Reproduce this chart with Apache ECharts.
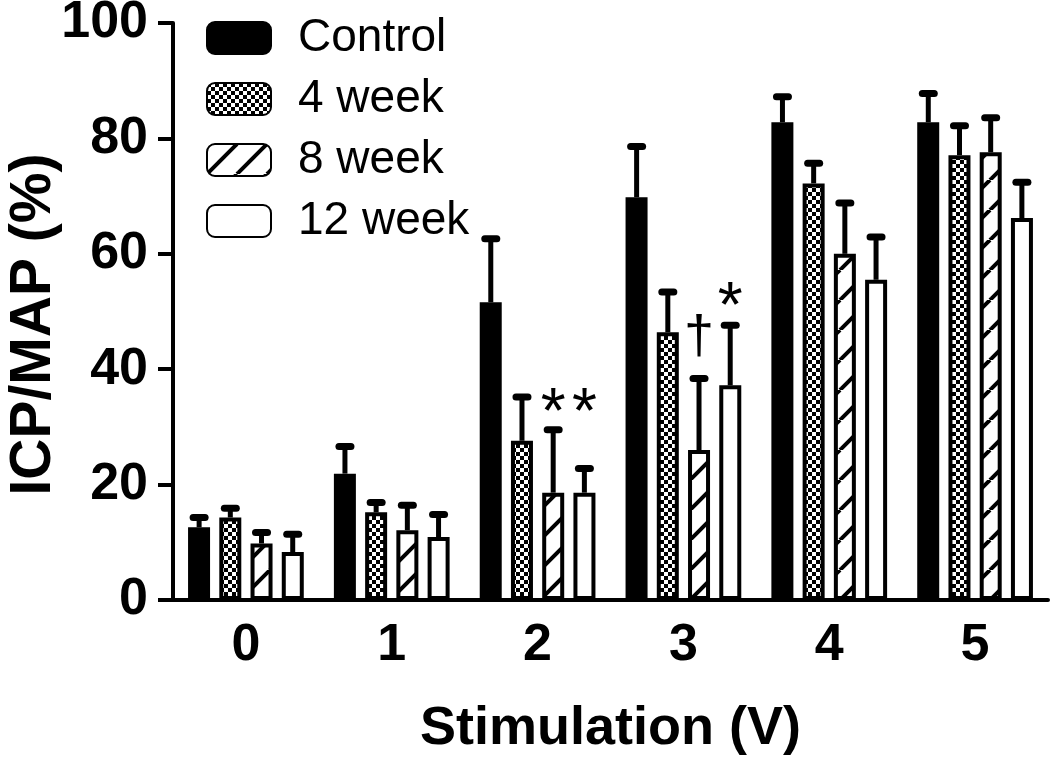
<!DOCTYPE html>
<html>
<head>
<meta charset="utf-8">
<script src="https://cdn.jsdelivr.net/npm/echarts@6/dist/echarts.min.js"></script>
<style>
    html, body { margin: 0; padding: 0; background: #fff; }
    #main { width: 1050px; height: 762px; }
</style>
</head>
<body>
<div id="main"></div>
<script>
// 数据
var categories = ['0', '1', '2', '3', '4', '5'];
var seriesNames = ['Control', '4 week', '8 week', '12 week'];

var control = [12.6, 21.9, 51.6, 69.8, 82.8, 82.8];
var controlErr = [14.3, 26.6, 62.6, 78.6, 87.2, 87.8];
var week4 = [14.3, 15.2, 27.6, 46.4, 72.2, 77.1];
var week4Err = [15.9, 16.9, 35.2, 53.4, 75.7, 82.2];
var week8 = [9.8, 12.1, 18.6, 26.0, 60.0, 77.6];
var week8Err = [11.7, 16.4, 29.5, 38.4, 68.8, 83.6];
var week12 = [8.3, 10.9, 18.6, 37.2, 55.5, 66.2];
var week12Err = [11.4, 14.8, 22.8, 47.6, 62.9, 72.4];

var yTicks = [0, 20, 40, 60, 80, 100];

// significance marks: [category index, series index, mark, level]
var marks = [
    [2, 2, '*', 34.7],
    [2, 3, '*', 34.7],
    [3, 2, '\u2020', 45.4],
    [3, 3, '*', 53.2]
];

var values = [control, week4, week8, week12];
var errTops = [controlErr, week4Err, week8Err, week12Err];

// 填充图案
function makeChecker() {
    var c = document.createElement('canvas');
    c.width = 8; c.height = 8;
    var ctx = c.getContext('2d');
    ctx.fillStyle = '#fff';
    ctx.fillRect(0, 0, 8, 8);
    ctx.fillStyle = '#000';
    ctx.fillRect(0, 0, 4, 4);
    ctx.fillRect(4, 4, 4, 4);
    return c;
}
function makeHatch() {
    var s = 30;
    var c = document.createElement('canvas');
    c.width = s; c.height = s;
    var ctx = c.getContext('2d');
    ctx.fillStyle = '#fff';
    ctx.fillRect(0, 0, s, s);
    ctx.strokeStyle = '#000';
    ctx.lineWidth = 4;
    [-s, 0, s].forEach(function (o) {
        ctx.beginPath();
        ctx.moveTo(o, s);
        ctx.lineTo(o + s, 0);
        ctx.stroke();
    });
    return c;
}

var fills = [
    '#000',
    { image: makeChecker(), repeat: 'repeat' },
    { image: makeHatch(), repeat: 'repeat' },
    '#fff'
];

var FONT = 'Liberation Sans, Arial, sans-serif';
var BAR_W = 22;
var STEP = 31.2; // 柱中心间距
function barOffset(i) { return (i - 1.5) * STEP; }

var chart = echarts.init(document.getElementById('main'));

var series = [];
seriesNames.forEach(function (name, i) {
    series.push({
        name: name,
        type: 'bar',
        barWidth: BAR_W,
        barGap: '42%',
        data: values[i],
        itemStyle: {
            color: fills[i],
            borderColor: '#000',
            borderWidth: 4
        },
        z: 2
    });
});

seriesNames.forEach(function (name, i) {
    series.push({
        type: 'custom',
        name: name + ' err',
        z: 3,
        renderItem: function (params, api) {
            var p0 = api.coord([api.value(0), api.value(1)]);
            var p1 = api.coord([api.value(0), api.value(2)]);
            var x = p0[0] + barOffset(i);
            return {
                type: 'group',
                children: [{
                    type: 'line',
                    shape: { x1: x, y1: p0[1], x2: x, y2: p1[1] },
                    style: { stroke: '#000', lineWidth: 5 }
                }, {
                    type: 'line',
                    shape: { x1: x - 6, y1: p1[1], x2: x + 6, y2: p1[1] },
                    style: { stroke: '#000', lineWidth: 7, lineCap: 'round' }
                }]
            };
        },
        data: categories.map(function (c, k) { return [k, values[i][k], errTops[i][k]]; })
    });
});

series.push({
    type: 'custom',
    name: 'marks',
    z: 4,
    renderItem: function (params, api) {
        var p = api.coord([api.value(0), api.value(3)]);
        var si = api.value(1);
        var txt = marks[params.dataIndex][2];
        var star = txt === '*';
        return {
            type: 'text',
            x: p[0] + barOffset(si),
            y: p[1] + (star ? 16 : 0),
            style: {
                text: txt,
                font: (star ? '64px ' : '54px ') + FONT,
                fill: '#000',
                align: 'center',
                verticalAlign: 'middle'
            }
        };
    },
    data: marks.map(function (m) { return [m[0], m[1], 0, m[3]]; })
});

chart.setOption({
    backgroundColor: '#fff',
    animation: false,
    grid: { left: 173, right: 2, top: 23, bottom: 162, outerBoundsMode: 'none' },
    legend: {
        data: seriesNames,
        orient: 'vertical',
        left: 201,
        top: 10,
        icon: 'roundRect',
        itemWidth: 64,
        itemHeight: 32,
        itemGap: 15,
        textStyle: {
            fontFamily: FONT,
            fontSize: 46,
            color: '#000',
            padding: [0, 0, 0, 22]
        }
    },
    xAxis: {
        type: 'category',
        data: categories,
        name: 'Stimulation (V)',
        nameLocation: 'middle',
        nameGap: 102,
        nameMoveOverlap: false,
        nameTextStyle: { fontFamily: FONT, fontSize: 54, fontWeight: 'bold', color: '#000' },
        axisLine: { lineStyle: { color: '#000', width: 4 } },
        axisTick: { alignWithLabel: true, length: 14, lineStyle: { color: '#000', width: 4 } },
        axisLabel: { fontFamily: FONT, fontSize: 52, fontWeight: 'bold', color: '#000', margin: 20 }
    },
    yAxis: {
        type: 'value',
        min: yTicks[0],
        max: yTicks[yTicks.length - 1],
        interval: 20,
        name: 'ICP/MAP (%)',
        nameLocation: 'middle',
        nameGap: 110,
        nameMoveOverlap: false,
        nameTextStyle: { fontFamily: FONT, fontSize: 57, fontWeight: 'bold', color: '#000', padding: [0, 26, 0, 0] },
        axisLine: { show: true, lineStyle: { color: '#000', width: 4 } },
        axisTick: { show: true, length: 15, lineStyle: { color: '#000', width: 4 } },
        splitLine: { show: false },
        axisLabel: { fontFamily: FONT, fontSize: 52, fontWeight: 'bold', color: '#000', margin: 25 }
    },
    series: series
});
</script>
</body>
</html>
